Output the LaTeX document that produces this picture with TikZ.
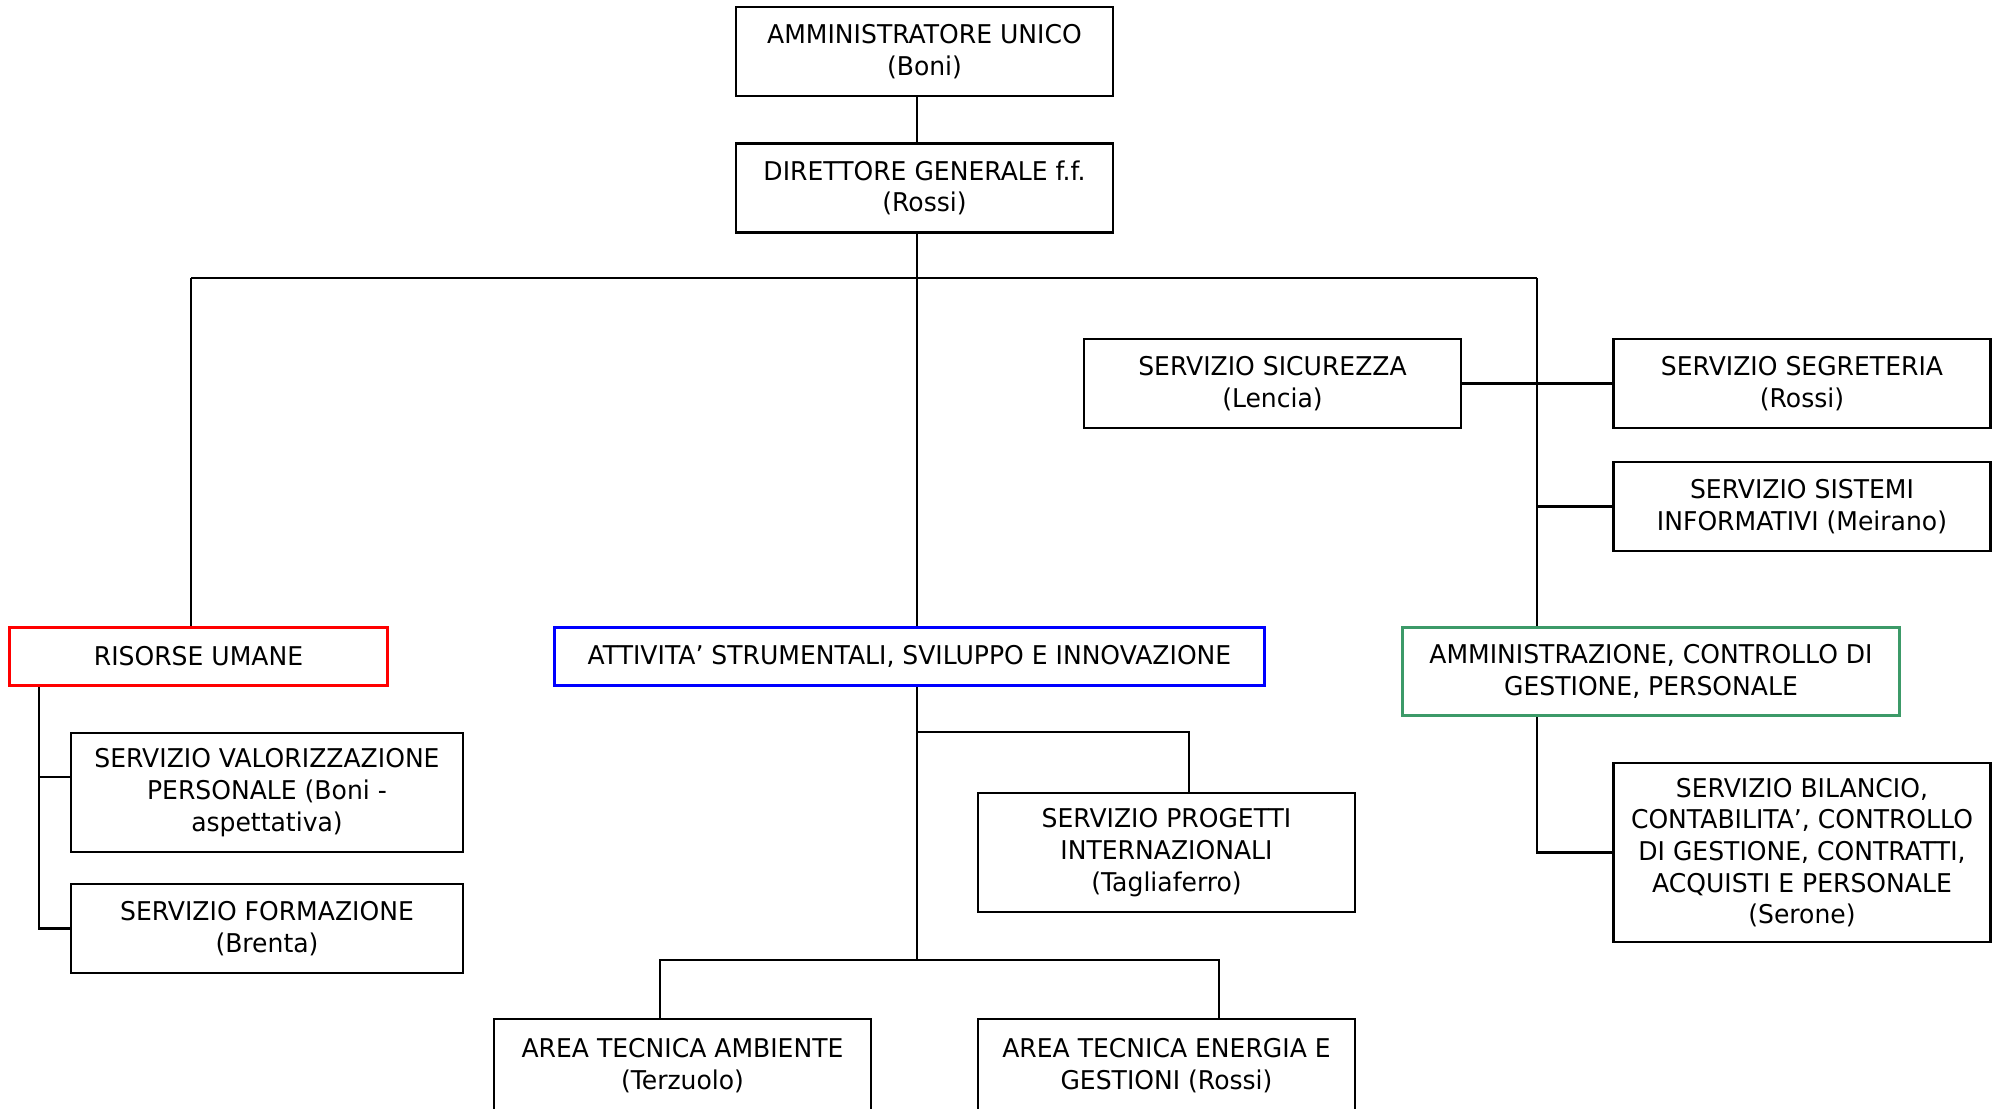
\documentclass[tikz,border=0pt]{standalone}
\usepackage{fontspec}
\setmainfont{DejaVu Sans}[FakeStretch=0.97]
\usepackage{tikz}
\definecolor{verde}{RGB}{60,154,104}
\tikzstyle{box}=[rectangle, draw=black, line width=0.6pt, minimum width=3.77cm, minimum height=0.89cm, inner sep=0pt, align=center, font=\fontsize{7.35}{9}\selectfont]
\tikzstyle{box3}=[box, minimum height=1.19cm]
\tikzstyle{box5}=[box, minimum height=1.79cm]
\tikzstyle{area1}=[box, draw=red, line width=1.05pt, minimum width=3.78cm, minimum height=0.58cm]
\tikzstyle{area2}=[box, draw=blue, line width=1.05pt, minimum width=7.10cm, minimum height=0.58cm]
\tikzstyle{area3}=[box, draw=verde, line width=1.05pt, minimum width=4.97cm, minimum height=0.88cm]
\tikzstyle{link}=[line width=0.6pt]

\begin{document}
\begin{tikzpicture}
\useasboundingbox (0,0) rectangle (20.02,-11.09);
%Top
\node[box] (amm) at (9.245,-0.515){AMMINISTRATORE UNICO\\(Boni)};
\node[box] (dir) at (9.245,-1.88){DIRETTORE GENERALE f.f.\\(Rossi)};
%Staff
\node[box] (sic) at (12.725,-3.835){SERVIZIO SICUREZZA\\(Lencia)};
\node[box] (seg) at (18.02,-3.835){SERVIZIO SEGRETERIA\\(Rossi)};
\node[box] (sis) at (18.02,-5.065){SERVIZIO SISTEMI\\INFORMATIVI (Meirano)};
%Areas
\node[area1] (ru) at (1.985,-6.565){RISORSE UMANE};
\node[area2] (att) at (9.095,-6.565){ATTIVITA’ STRUMENTALI, SVILUPPO E INNOVAZIONE};
\node[area3] (amc) at (16.51,-6.715){AMMINISTRAZIONE, CONTROLLO DI\\GESTIONE, PERSONALE};
%Services
\node[box3, minimum width=3.92cm] (svp) at (2.67,-7.925){SERVIZIO VALORIZZAZIONE\\PERSONALE (Boni -\\aspettativa)};
\node[box, minimum width=3.92cm] (sf) at (2.67,-9.285){SERVIZIO FORMAZIONE\\(Brenta)};
\node[box3] (spi) at (11.665,-8.525){SERVIZIO PROGETTI\\INTERNAZIONALI\\(Tagliaferro)};
\node[box5] (bil) at (18.02,-8.525){SERVIZIO BILANCIO,\\CONTABILITA’, CONTROLLO\\DI GESTIONE, CONTRATTI,\\ACQUISTI E PERSONALE\\(Serone)};
\node[box, minimum height=0.93cm] (ata) at (6.825,-10.655){AREA TECNICA AMBIENTE\\(Terzuolo)};
\node[box, minimum height=0.93cm] (aeg) at (11.665,-10.655){AREA TECNICA ENERGIA E\\GESTIONI (Rossi)};

%Junctions
\coordinate (bus) at (9.17,-2.78);
\coordinate (busL) at (1.91,-2.78);
\coordinate (busR) at (15.37,-2.78);
\coordinate (ruL) at (0.39,-7.77);
\coordinate (spiA) at (9.17,-7.32);
\coordinate (spiB) at (11.89,-7.32);
\coordinate (ctr) at (9.17,-9.60);
\coordinate (ataT) at (6.60,-9.60);
\coordinate (aegT) at (12.19,-9.60);

%Lines
\draw[link] (amm.south -| bus) -- (dir.north -| bus);
\draw[link] (dir.south -| bus) -- (att.north -| bus);
\draw[link] (busL) -- (busR);
\draw[link] (busL) -- (ru.north -| busL);
\draw[link] (busR) -- (amc.north -| busR);
\draw[link] (sic.east) -- (seg.west);
\draw[link] (sis.west) -- (sis.west -| busR);
\draw[link] (amc.south -| busR) |- (bil.west);
\draw[link] (ru.south -| ruL) |- (sf.west);
\draw[link] (ruL) -- (ruL -| svp.west);
\draw[link] (att.south -| bus) -- (ctr);
\draw[link] (spiA) -- (spiB) -- (spiB |- spi.north);
\draw[link] (ataT |- ata.north) -- (ataT) -- (aegT) -- (aegT |- aeg.north);

\end{tikzpicture}
\end{document}
